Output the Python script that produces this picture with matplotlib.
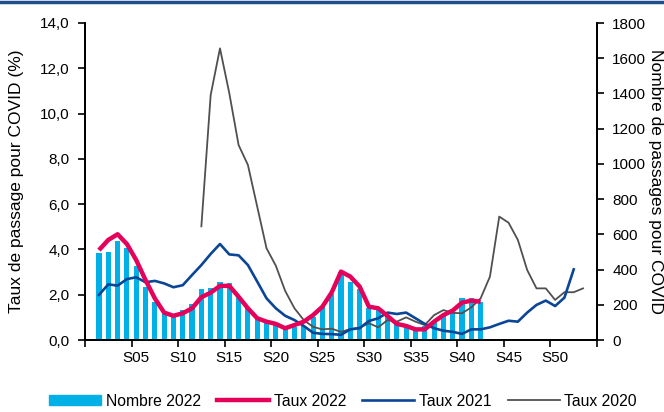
import numpy as np
import matplotlib
matplotlib.use('Agg')
import matplotlib.pyplot as plt
from matplotlib.lines import Line2D
from matplotlib.ticker import FuncFormatter

plt.rcParams['font.family'] = ['Liberation Sans', 'DejaVu Sans']

# semaines S01..S53
weeks = np.arange(1, 54)
week_labels = ['S05', 'S10', 'S15', 'S20', 'S25', 'S30', 'S35', 'S40', 'S45', 'S50']

# Nombre de passages 2022 (axe droit), S01..S42
nombre_2022 = [496, 497, 562, 525, 420, 301, 218, 151, 135, 168,
               203, 291, 295, 328, 321, 244, 182, 132, 114, 85,
               71, 74, 80, 131, 190, 261, 386, 331, 287, 182,
               170, 132, 98, 85, 68, 80, 104, 142, 159, 237,
               237, 213]

# Taux 2022 (%), S01..S42
taux_2022 = [3.97, 4.42, 4.67, 4.24, 3.53, 2.65, 1.84, 1.21, 1.07, 1.18,
             1.40, 1.89, 2.09, 2.39, 2.39, 1.91, 1.40, 0.96, 0.81, 0.71,
             0.52, 0.66, 0.81, 1.10, 1.47, 2.10, 3.02, 2.80, 2.36, 1.47,
             1.40, 1.06, 0.71, 0.62, 0.47, 0.47, 0.81, 1.10, 1.30, 1.65,
             1.74, 1.69]

# Taux 2021 (%), S01..S52
taux_2021 = [1.99, 2.46, 2.40, 2.69, 2.77, 2.55, 2.61, 2.50, 2.33, 2.42,
             2.87, 3.31, 3.80, 4.24, 3.78, 3.74, 3.31, 2.58, 1.84, 1.40,
             1.07, 0.88, 0.62, 0.32, 0.27, 0.26, 0.23, 0.47, 0.52, 0.84,
             0.96, 1.21, 1.15, 1.21, 0.96, 0.71, 0.52, 0.41, 0.36, 0.27,
             0.47, 0.47, 0.56, 0.71, 0.85, 0.81, 1.21, 1.55, 1.74, 1.50,
             1.87, 3.12]

# Taux 2020 (%), S12..S53
taux_2020 = [5.02, 10.82, 12.88, 10.90, 8.61, 7.73, 5.89, 4.05, 3.28, 2.17,
             1.40, 0.88, 0.58, 0.47, 0.50, 0.36, 0.48, 0.55, 0.74, 0.56,
             0.88, 0.81, 1.00, 0.81, 0.66, 1.10, 1.32, 1.20, 1.18, 1.44,
             1.84, 2.80, 5.45, 5.18, 4.42, 3.09, 2.28, 2.28, 1.77, 2.11,
             2.11, 2.28]

c_bar = '#00b0e6'
c_red = '#e5005a'
c_blue = '#0b4596'
c_gray = '#505050'

fig = plt.figure(figsize=(6.64, 4.12), dpi=100)
ax1 = fig.add_axes([85 / 664, 1 - 340 / 412, 512 / 664, 317 / 412])
ax2 = ax1.twinx()
ax1.set_zorder(ax2.get_zorder() + 1)
ax1.patch.set_visible(False)

ax2.bar(weeks[:len(nombre_2022)], nombre_2022, width=0.55, color=c_bar, zorder=2)

ax1.plot(weeks[:len(taux_2022)], taux_2022, color=c_red, lw=3.2,
         solid_joinstyle='round', solid_capstyle='butt', zorder=5)
ax1.plot(weeks[:len(taux_2021)], taux_2021, color=c_blue, lw=1.9, zorder=4)
ax1.plot(weeks[11:11 + len(taux_2020)], taux_2020, color=c_gray, lw=1.3, zorder=3)

ax1.set_xlim(-0.5, 54.5)
ax1.set_ylim(0, 14)
ax2.set_ylim(0, 1800)
ax1.set_yticks(np.arange(0, 15, 2))
ax2.set_yticks(np.arange(0, 1801, 200))
ax1.yaxis.set_major_formatter(FuncFormatter(lambda v, p: f'{v:.1f}'.replace('.', ',')))

ax1.set_xticks(np.arange(-0.5, 55, 5))
ax1.set_xticklabels([])
ax1.set_xticks(np.arange(5, 51, 5), minor=True)
ax1.set_xticklabels(week_labels, minor=True)
ax1.tick_params(axis='x', which='major', length=5, width=1.2, direction='out')
ax1.tick_params(axis='x', which='minor', length=0, pad=8, labelsize=11)
ax1.tick_params(axis='y', length=5, width=1.2, pad=6, labelsize=11)
ax2.tick_params(axis='y', length=5, width=1.2, pad=6, labelsize=11)

for ax in (ax1, ax2):
    ax.spines['top'].set_visible(False)
    for s in ('left', 'right', 'bottom'):
        ax.spines[s].set_linewidth(1.3)

ax1.set_ylabel('Taux de passage pour COVID (%)', fontsize=12.5)
ax1.yaxis.set_label_coords(-0.119, 0.5)
ax2.set_ylabel('Nombre de passages pour COVID', fontsize=12.5, rotation=270)
ax2.yaxis.set_label_coords(1.129, 0.5)

handles = [plt.Rectangle((0, 0), 1, 1, color=c_bar),
           Line2D([], [], color=c_red, lw=3.2),
           Line2D([], [], color=c_blue, lw=1.9),
           Line2D([], [], color=c_gray, lw=1.3)]
fig.legend(handles, ['Nombre 2022', 'Taux 2022', 'Taux 2021', 'Taux 2020'],
           loc='center', bbox_to_anchor=(343 / 664, 1 - 401 / 412), ncol=4,
           frameon=False, fontsize=11.3, handlelength=3.3, handletextpad=0.3,
           columnspacing=1.05, handleheight=0.6)

# bandeau bleu en haut
fig.add_artist(Line2D([0, 1], [1 - 1.5 / 412, 1 - 1.5 / 412], color='#1f4e8d', lw=2.5,
                      transform=fig.transFigure))

fig.savefig('out.png', dpi=100)
